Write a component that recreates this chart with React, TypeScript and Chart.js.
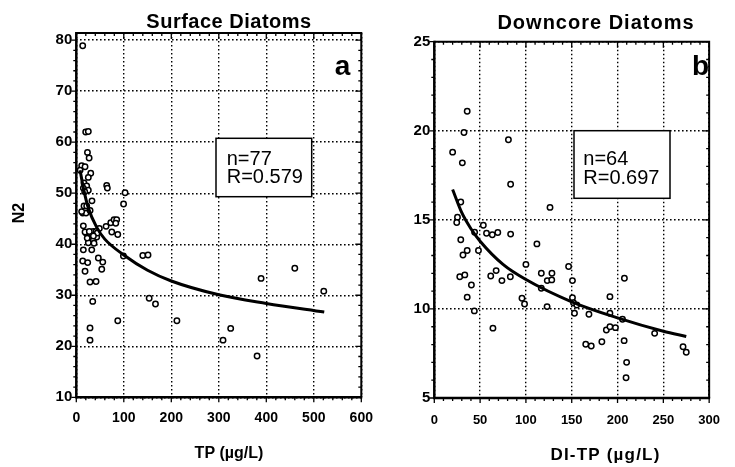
import React, { useEffect, useRef } from "react";
import { Chart, registerables } from "chart.js";
Chart.register(...registerables);

const FONT = '"Liberation Sans", Arial, Helvetica, sans-serif';

// Panel a: Surface Diatoms
const surfaceTP = [13.5, 19.8, 25.3, 23.5, 27.0, 11.4, 18.4, 8.0, 30.4, 25.3, 16.2, 21.9, 25.3, 14.8, 17.7, 64.0, 65.4, 102.7, 99.5, 33.0, 16.2, 21.9, 13.5, 20.5, 29.0, 11.3, 14.8, 62.7, 72.6, 79.5, 85.0, 83.1, 74.7, 87.3, 48.5, 20.5, 28.9, 35.9, 41.6, 32.5, 39.5, 25.3, 35.9, 43.0, 25.3, 37.3, 14.8, 32.5, 99.2, 140.0, 151.0, 46.4, 55.7, 13.5, 24.0, 53.6, 18.4, 28.9, 41.6, 34.6, 87.3, 28.9, 28.9, 153.4, 166.7, 211.8, 308.9, 325.0, 389.0, 380.6, 460.0, 521.0, 18.4, 27.4, 44.3, 36.0, 23.0];
const surfaceN2 = [78.9, 62.0, 62.1, 58.0, 56.9, 55.4, 55.2, 54.5, 53.9, 53.1, 52.0, 51.4, 50.6, 51.0, 50.3, 51.5, 51.0, 50.1, 47.9, 48.5, 47.5, 47.5, 46.1, 46.1, 46.6, 46.4, 43.6, 43.5, 44.2, 44.8, 44.8, 44.1, 42.4, 41.9, 43.1, 42.2, 42.2, 42.5, 42.5, 41.6, 41.8, 41.0, 40.8, 41.4, 40.3, 40.2, 38.9, 38.9, 37.7, 37.8, 37.9, 37.3, 36.5, 36.7, 36.4, 35.1, 34.7, 32.6, 32.7, 28.8, 25.0, 23.6, 21.2, 29.4, 28.3, 25.0, 21.2, 23.5, 33.3, 18.1, 35.3, 30.8, 42.4, 42.5, 42.2, 41.6, 41.2];
const surfaceFitTP = [8, 15, 25, 43, 60, 100, 150, 200, 300, 400, 522];
const surfaceFitN2 = [54.5, 51.0, 47.2, 43.3, 41.0, 37.9, 34.9, 32.8, 30.1, 28.4, 26.7];

// Panel b: Downcore Diatoms
const downcoreTP = [20.0, 30.6, 32.4, 35.9, 80.9, 83.3, 126.3, 28.9, 25.3, 24.5, 53.5, 44.0, 57.0, 63.3, 69.3, 83.3, 28.9, 35.9, 31.3, 48.2, 112.0, 100.0, 27.8, 33.3, 61.6, 67.5, 73.8, 83.0, 116.8, 128.4, 123.3, 128.2, 116.8, 40.5, 35.9, 95.7, 98.5, 123.1, 43.7, 64.0, 146.6, 150.8, 150.8, 151.9, 153.0, 155.5, 168.8, 165.3, 171.3, 182.9, 187.8, 191.7, 197.7, 191.7, 191.7, 205.4, 207.5, 207.2, 209.9, 209.3, 240.5, 271.5, 275.0];
const downcoreN2 = [18.8, 18.2, 19.9, 21.1, 19.5, 17.0, 15.7, 16.0, 15.15, 14.85, 14.7, 14.3, 14.25, 14.16, 14.29, 14.2, 13.88, 13.28, 13.03, 13.28, 13.65, 12.5, 11.81, 11.91, 11.85, 12.15, 11.59, 11.81, 12.0, 12.0, 11.59, 11.63, 11.16, 11.34, 10.66, 10.6, 10.28, 10.13, 9.89, 8.92, 12.38, 11.59, 10.63, 10.35, 9.76, 10.22, 9.7, 8.02, 7.92, 8.16, 8.82, 9.0, 8.95, 10.69, 9.76, 9.42, 11.72, 8.22, 7.0, 6.14, 8.63, 7.88, 7.57];
const downcoreFitTP = [20, 30, 40, 50, 75, 100, 150, 200, 250, 275];
const downcoreFitN2 = [16.7, 15.4, 14.5, 13.8, 12.5, 11.65, 10.4, 9.5, 8.75, 8.45];

const panels = [
  {
    tp: surfaceTP, n2: surfaceN2, fitTP: surfaceFitTP, fitN2: surfaceFitN2,
    left: 76.3, right: 361.3, top: 33, bottom: 397.3,
    xMin: 0, xMax: 600, xMajor: 100, xMinor: 20,
    yMin: 10, yMax: 81.4, yMajor: 10, yMinor: 2,
    xFont: 14, yFont: 15, xPad: 12.6,
    title: "Surface Diatoms", titleX: 229, titleY: 22, titleSize: 20, titleSpacing: 0.5,
    xTitle: "TP (µg/L)", xTitleX: 229, xTitleY: 454, xTitleSize: 16, xTitleSpacing: 0,
    letter: "a", letterX: 342.5, letterY: 75, letterSize: 28,
    box: [216, 138.3, 95.7, 58.4], boxLines: ["n=77", "R=0.579"], boxTextX: 226.7, boxTextY: [159, 177.5],
    yTitle: "N2",
  },
  {
    tp: downcoreTP, n2: downcoreN2, fitTP: downcoreFitTP, fitN2: downcoreFitN2,
    left: 434.3, right: 718.7, top: 41.7, bottom: 398,
    xMin: 0, xMax: 300, xMajor: 50, xMinor: 10,
    yMin: 5, yMax: 25, yMajor: 5, yMinor: 1,
    xFont: 13, yFont: 15, xPad: 15,
    title: "Downcore Diatoms", titleX: 596, titleY: 23, titleSize: 20, titleSpacing: 1,
    xTitle: "DI-TP (µg/L)", xTitleX: 605.5, xTitleY: 455, xTitleSize: 17, xTitleSpacing: 1.2,
    letter: "b", letterX: 700.5, letterY: 75, letterSize: 28,
    box: [574, 130.7, 96, 67.6], boxLines: ["n=64", "R=0.697"], boxTextX: 583.3, boxTextY: [159, 178],
    yTitle: "",
  },
];

function drawText(ctx: any, s: string, x: number, y: number, font: string, align = "center", baseline = "middle", spacing = 0) {
  ctx.save();
  ctx.font = font;
  try { ctx.letterSpacing = spacing + "px"; } catch (e) {}
  ctx.textAlign = align;
  ctx.textBaseline = baseline;
  ctx.fillStyle = "#000";
  ctx.fillText(s, x, y);
  ctx.restore();
}

function makePlugin(p: any) {
  return {
    id: "frameText",
    afterDraw(chart: any) {
      const ctx = chart.ctx;
      const a = chart.chartArea;
      const xs = chart.scales.x;
      const ys = chart.scales.y;
      ctx.save();
      ctx.strokeStyle = "#000";
      ctx.lineCap = "butt";
      ctx.lineWidth = 1.3;
      ctx.beginPath();
      const nx = Math.round((p.xMax - p.xMin) / p.xMinor);
      for (let i = 0; i <= nx; i++) {
        const v = p.xMin + i * p.xMinor;
        const px = xs.getPixelForValue(v);
        const major = Math.abs(v / p.xMajor - Math.round(v / p.xMajor)) < 1e-6;
        ctx.moveTo(px, a.bottom);
        ctx.lineTo(px, a.bottom + (major ? 5 : 3));
        ctx.moveTo(px, a.top);
        ctx.lineTo(px, a.top + (major ? 6 : 3));
      }
      const ny = Math.floor((p.yMax - p.yMin) / p.yMinor + 1e-6);
      for (let i = 0; i <= ny; i++) {
        const v = p.yMin + i * p.yMinor;
        const py = ys.getPixelForValue(v);
        const major = Math.abs(v / p.yMajor - Math.round(v / p.yMajor)) < 1e-6;
        ctx.moveTo(a.left, py);
        ctx.lineTo(a.left - (major ? 5 : 3), py);
        ctx.moveTo(a.right, py);
        ctx.lineTo(a.right - (major ? 6 : 3), py);
      }
      ctx.stroke();
      // top and right frame
      ctx.lineWidth = 2;
      ctx.beginPath();
      ctx.moveTo(a.left, a.top);
      ctx.lineTo(a.right, a.top);
      ctx.lineTo(a.right, a.bottom);
      ctx.stroke();
      // left and bottom axes (heavier)
      ctx.lineWidth = 2.5;
      ctx.beginPath();
      ctx.moveTo(a.left, a.top - 1);
      ctx.lineTo(a.left, a.bottom);
      ctx.lineTo(a.right + 1, a.bottom);
      ctx.stroke();
      const [bx, by, bw, bh] = p.box;
      ctx.fillStyle = "#fff";
      ctx.fillRect(bx, by, bw, bh);
      ctx.lineWidth = 1.5;
      ctx.strokeRect(bx, by, bw, bh);
      ctx.restore();
      p.boxLines.forEach((s: string, i: number) =>
        drawText(ctx, s, p.boxTextX, p.boxTextY[i], `20px ${FONT}`, "left", "middle"));
      drawText(ctx, p.title, p.titleX, p.titleY, `bold ${p.titleSize}px ${FONT}`, "center", "middle", p.titleSpacing);
      drawText(ctx, p.xTitle, p.xTitleX, p.xTitleY, `bold ${p.xTitleSize}px ${FONT}`, "center", "middle", p.xTitleSpacing);
      drawText(ctx, p.letter, p.letterX, p.letterY, `bold ${p.letterSize}px ${FONT}`, "center", "alphabetic");
      if (p.yTitle) {
        ctx.save();
        ctx.translate(20, 213);
        ctx.rotate(-Math.PI / 2);
        drawText(ctx, p.yTitle, 0, 0, `bold 16px ${FONT}`, "center", "middle");
        ctx.restore();
      }
    },
  };
}

function makeConfig(p: any) {
  const majorTicks = (min: number, max: number, step: number) => (scale: any) => {
    const out: any[] = [];
    const first = Math.ceil(min / step - 1e-9);
    const last = Math.floor(max / step + 1e-9);
    for (let k = first; k <= last; k++) out.push({ value: k * step });
    scale.ticks = out;
  };
  return {
    type: "scatter",
    data: {
      datasets: [
        {
          type: "line",
          data: p.fitTP.map((x: number, i: number) => ({ x, y: p.fitN2[i] })),
          borderColor: "#000",
          borderWidth: 3,
          pointRadius: 0,
          fill: false,
          showLine: true,
          cubicInterpolationMode: "monotone",
        },
        {
          type: "scatter",
          data: p.tp.map((x: number, i: number) => ({ x, y: p.n2[i] })),
          pointRadius: 2.7,
          borderWidth: 1.5,
          borderColor: "#000",
          backgroundColor: "#fff",
          pointStyle: "circle",
        },
      ],
    },
    options: {
      animation: false,
      responsive: false,
      devicePixelRatio: 1,
      events: [],
      layout: { padding: { left: 0, top: p.top, right: 735 - p.right, bottom: 0 } },
      plugins: { legend: { display: false }, title: { display: false }, tooltip: { enabled: false } },
      scales: {
        x: {
          type: "linear",
          position: "bottom",
          min: p.xMin,
          max: p.xMax,
          afterBuildTicks: majorTicks(p.xMin, p.xMax, p.xMajor),
          afterFit: (s: any) => { s.height = 467 - p.bottom; },
          ticks: { stepSize: p.xMajor, padding: p.xPad, color: "#000", maxRotation: 0, autoSkip: false, font: { family: FONT, size: p.xFont, weight: "bold" } },
          grid: { color: "#000", lineWidth: 1.4, drawTicks: false },
          border: { display: false, dash: [1.6, 2.4] },
        },
        y: {
          type: "linear",
          position: "left",
          min: p.yMin,
          max: p.yMax,
          afterBuildTicks: majorTicks(p.yMin, p.yMax, p.yMajor),
          afterFit: (s: any) => { s.width = p.left; },
          ticks: { stepSize: p.yMajor, padding: 4, color: "#000", autoSkip: false, font: { family: FONT, size: p.yFont, weight: "bold" } },
          grid: { color: "#000", lineWidth: 1.4, drawTicks: false },
          border: { display: false, dash: [1.6, 2.4] },
        },
      },
    },
    plugins: [makePlugin(p)],
  };
}

function Panel({ p }: { p: any }) {
  const ref = useRef<HTMLCanvasElement | null>(null);
  useEffect(() => {
    if (!ref.current) return;
    const chart = new Chart(ref.current, makeConfig(p) as any);
    return () => chart.destroy();
  }, []);
  return (
    <canvas
      ref={ref}
      width={735}
      height={467}
      style={{ position: "absolute", left: 0, top: 0, width: 735, height: 467 }}
    />
  );
}

export default function App() {
  return (
    <div style={{ position: "fixed", left: 0, top: 0, width: 735, height: 467, background: "#fff" }}>
      {panels.map((p, i) => (
        <Panel key={i} p={p} />
      ))}
    </div>
  );
}
